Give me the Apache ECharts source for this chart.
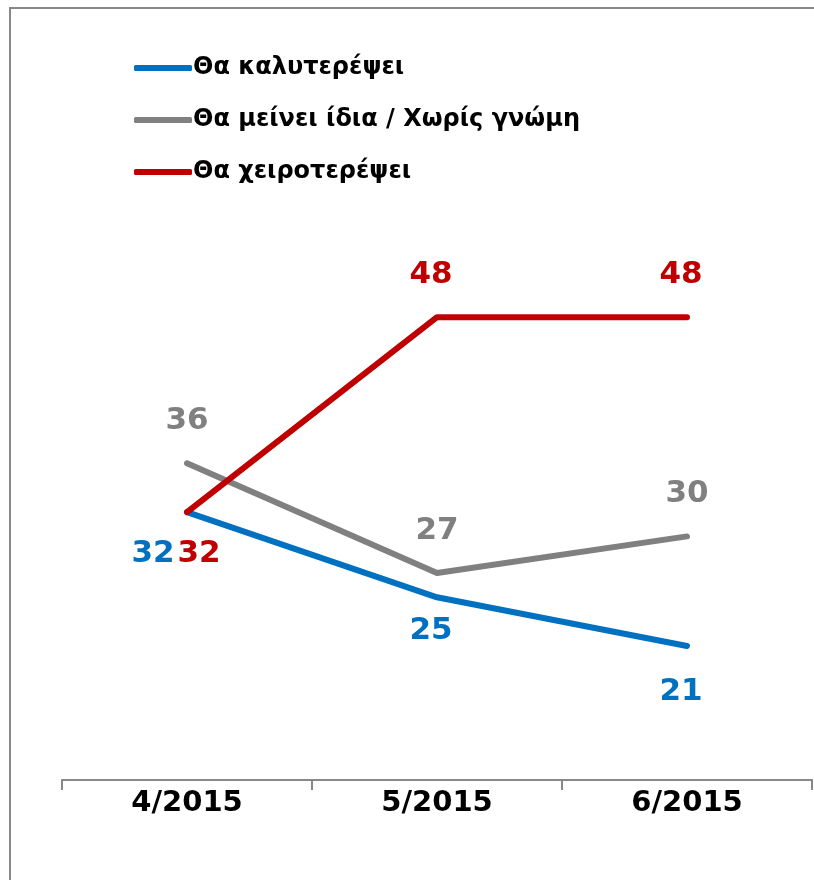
<!DOCTYPE html>
<html>
<head>
<meta charset="utf-8">
<script src="https://cdn.jsdelivr.net/npm/echarts@6/dist/echarts.min.js"></script>
<style>
html,body{margin:0;padding:0;background:#fff;}
#main{width:814px;height:880px;}
</style>
</head>
<body>
<div id="main"></div>
<script>
// data
var categories = ['4/2015', '5/2015', '6/2015'];
var seriesNames = ['Θα καλυτερέψει', 'Θα μείνει ίδια / Χωρίς γνώμη', 'Θα χειροτερέψει'];
var better = [32, 25, 21];
var same = [36, 27, 30];
var worse = [32, 48, 48];

var colors = ['#0070C0', '#808080', '#C00000'];
var fontName = 'DejaVu Sans';

// label placement per point (style only)
var labelCfg = [
	[{pos:'bottom', d:26, dx:-34}, {pos:'bottom', d:18, dx:-6}, {pos:'bottom', d:30, dx:-6}],
	[{pos:'top', d:26, dx:0}, {pos:'top', d:26, dx:0}, {pos:'top', d:26, dx:0}],
	[{pos:'bottom', d:26, dx:12}, {pos:'top', d:26, dx:-6}, {pos:'top', d:26, dx:-6}]
];

function $each(arr, fn){
	for(var i=0;i<arr.length;i++){ fn(i, arr[i]); }
}
function buildData(values, idx){
	var out = [];
	$each(values, function(i, v){
		var c = labelCfg[idx][i];
		out.push({
			value: v,
			label: {position: c.pos, distance: c.d, offset: [c.dx, 0]}
		});
	});
	return out;
}

var allValues = [better, same, worse];
var series = [];
$each(allValues, function(i, vals){
	series.push({
		name: seriesNames[i],
		type: 'line',
		data: buildData(vals, i),
		symbol: 'circle',
		symbolSize: 1,
		itemStyle: {color: colors[i]},
		lineStyle: {color: colors[i], width: 6, cap: 'round', join: 'round'},
		label: {
			show: true,
			color: colors[i],
			fontSize: 31,
			fontWeight: 'bold',
			fontFamily: fontName
		},
		z: 2 + i,
		animation: false
	});
});

var dom = document.getElementById('main');
var myChart = echarts.init(dom);
var option = {
	animation: false,
	graphic: [{
		type: 'rect',
		shape: {x: 10, y: 8, width: 900, height: 1000},
		style: {fill: null, stroke: '#888', lineWidth: 2},
		silent: true
	}],
	legend: {
		orient: 'vertical',
		left: 129,
		top: 50,
		itemWidth: 58,
		itemHeight: 6,
		itemGap: 26,
		icon: 'roundRect',
		selectedMode: false,
		data: seriesNames,
		textStyle: {
			color: '#000',
			fontSize: 24,
			fontWeight: 'bold',
			fontFamily: fontName,
			lineHeight: 26,
			padding: [0, 0, 0, -4]
		}
	},
	grid: {
		left: 62,
		right: 2,
		top: 171,
		bottom: 100
	},
	xAxis: {
		type: 'category',
		data: categories,
		boundaryGap: true,
		axisLine: {lineStyle: {color: '#888', width: 2}},
		axisTick: {show: true, length: 10, lineStyle: {color: '#888', width: 2}},
		axisLabel: {
			color: '#000',
			fontSize: 29,
			fontWeight: 'bold',
			fontFamily: fontName,
			margin: 9
		}
	},
	yAxis: {
		type: 'value',
		min: 10,
		max: 60,
		show: false,
		splitLine: {show: false}
	},
	series: series
};
myChart.setOption(option, true);
</script>
</body>
</html>
